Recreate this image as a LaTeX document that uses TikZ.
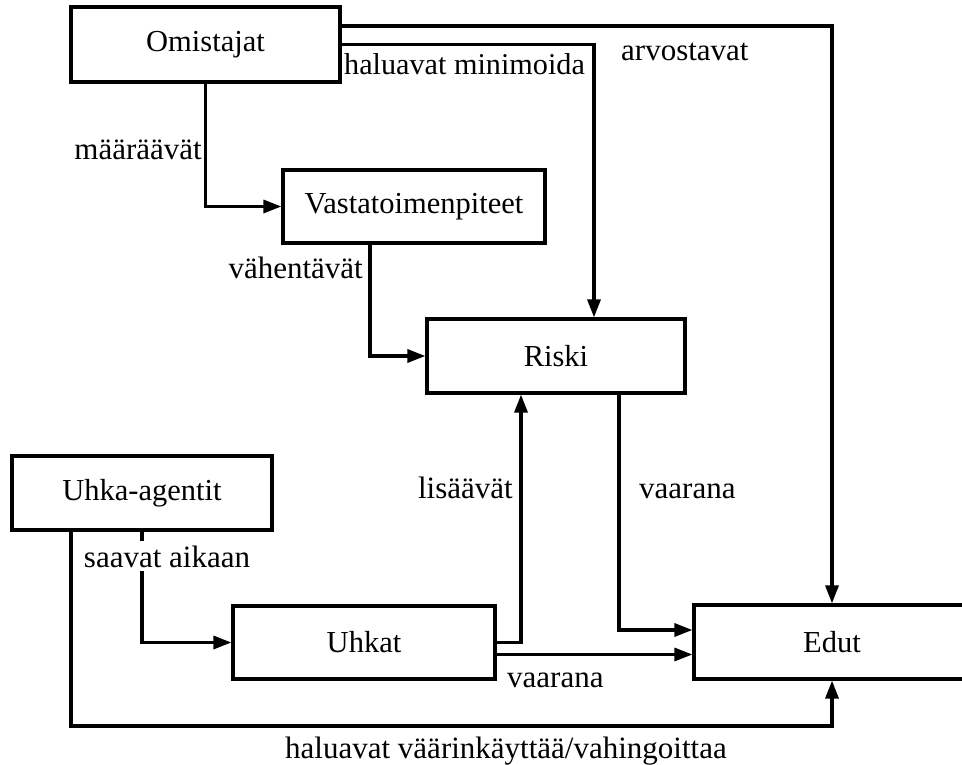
\documentclass[tikz,border=0pt]{standalone}
\usepackage{fontspec}
\setmainfont{Liberation Serif}
\usetikzlibrary{arrows.meta}
\begin{document}
\begin{tikzpicture}[x=1pt,y=-1pt,
  box/.style={draw, line width=3.2pt, minimum height=74pt, inner sep=0pt,
    font=\fontsize{30.5}{36}\selectfont},
  lbl/.style={anchor=base west, inner sep=0pt, font=\fontsize{31}{36}\selectfont},
  conn/.style={line width=3.2pt, -{Triangle[length=18pt,width=13pt]}}]
\useasboundingbox (0,0) rectangle (962,765);
\clip (0,0) rectangle (962,765);

% boxes
\node[box, minimum width=269pt, minimum height=75pt] (own) at (205.5,44.5) {Omistajat};
\node[box, minimum width=262pt, minimum height=73pt] (cm) at (414,206.5) {Vastatoimenpiteet};
\node[box, minimum width=258pt] (risk) at (556,356) {Riski};
\node[box, minimum width=260pt] (ta) at (142,493) {Uhka-agentit};
\node[box, minimum width=262pt, minimum height=73pt] (thr) at (364,642.5) {Uhkat};
\node[box, minimum width=276pt] (ben) at (832,642) {Edut};

% connectors
\draw[conn] ([yshift=18.5pt]own.east) -| (ben.north);
\draw[conn] (own.east) -| ([xshift=38pt]risk.north);
\draw[conn] (own.south) |- (cm.west);
\draw[conn] ([xshift=-44pt]cm.south) |- (risk.west);
\draw[conn] (thr.east) -| ([xshift=-35pt]risk.south);
\coordinate (e1) at ([yshift=12pt]ben.west);
\draw[conn] ([xshift=63pt]risk.south) |- (e1);
\coordinate (t2) at ([yshift=-12pt]thr.east);
\draw[conn] (t2) -- (t2 -| ben.west);
\draw[conn] (ta.south) |- (thr.west);
\coordinate (bl) at (71,726);
\draw[conn] ([xshift=-71pt]ta.south) -- (bl) -| (ben.south);

% connector labels
\node[lbl, font=\fontsize{30.2}{36}\selectfont] (l1) at (344,75) {haluavat minimoida};
\node[lbl] (l2) at (621,61) {arvostavat};
\node[lbl, anchor=base east] (l3) at (202,160) {määräävät};
\node[lbl, anchor=base east] (l4) at (363,278) {vähentävät};
\node[lbl, anchor=base, fill=white, inner xsep=2pt, inner ysep=4pt] (l5) at (167,567) {saavat aikaan};
\node[lbl, anchor=base east] (l6) at (513,498) {lisäävät};
\node[lbl] (l7) at (639,498) {vaarana};
\node[lbl] (l8) at (507,687) {vaarana};
\node[lbl] (l9) at (285,758) {haluavat väärinkäyttää/vahingoittaa};
\end{tikzpicture}
\end{document}
